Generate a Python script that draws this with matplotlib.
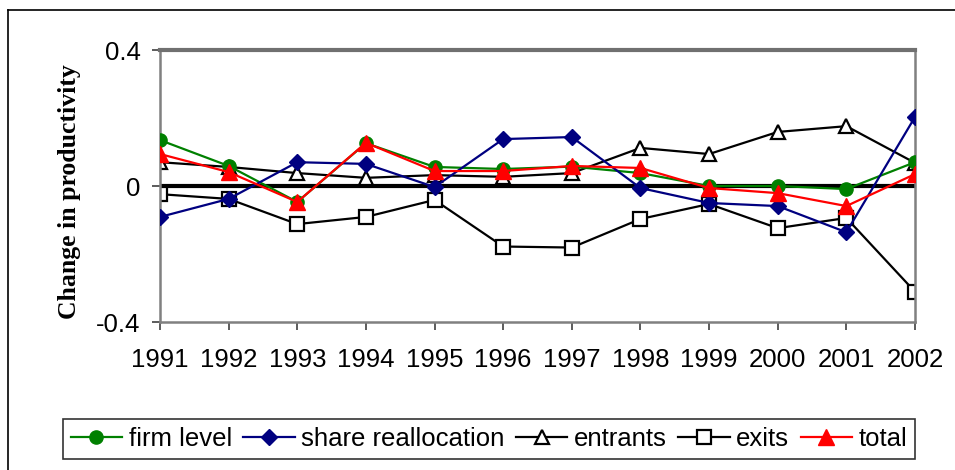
import matplotlib.pyplot as plt
from matplotlib.lines import Line2D

years = [1991, 1992, 1993, 1994, 1995, 1996, 1997, 1998, 1999, 2000, 2001, 2002]
firm_level = [0.135, 0.059, -0.047, 0.126, 0.056, 0.050, 0.057, 0.038, 0.000, 0.000, -0.009, 0.070]
share_realloc = [-0.091, -0.038, 0.070, 0.065, -0.003, 0.138, 0.144, -0.006, -0.050, -0.059, -0.136, 0.203]
entrants = [0.070, 0.056, 0.038, 0.024, 0.032, 0.027, 0.038, 0.112, 0.094, 0.159, 0.176, 0.068]
exits = [-0.024, -0.038, -0.112, -0.091, -0.041, -0.178, -0.181, -0.097, -0.053, -0.124, -0.094, -0.311]
total = [0.094, 0.041, -0.047, 0.127, 0.044, 0.044, 0.059, 0.053, -0.006, -0.021, -0.059, 0.035]

plt.rcParams['font.family'] = ['Liberation Sans', 'DejaVu Sans']

fig = plt.figure(figsize=(9.55, 4.7), dpi=100)
ax = fig.add_axes([160/955, 1 - 322/470, 755/955, 272/470])

# outer frame (cut off on right and bottom, as in the source)
fig.add_artist(Line2D([8/955, 1.0], [1 - 10/470, 1 - 10/470], color='black', lw=1.2))
fig.add_artist(Line2D([8/955, 8/955], [0, 1 - 10/470], color='black', lw=1.2))

x = list(range(len(years)))
ax.axhline(0, color='black', lw=3, zorder=1)

ax.plot(x, firm_level, color='#008000', lw=1.6, marker='o', ms=9.5, label='firm level', zorder=3)
ax.plot(x, share_realloc, color='#000080', lw=1.6, marker='D', ms=8, label='share reallocation', zorder=3)
ax.plot(x, entrants, color='black', lw=1.6, marker='^', ms=10, mfc='white', mec='black', mew=1.6,
        label='entrants', zorder=2)
ax.plot(x, exits, color='black', lw=1.6, marker='s', ms=9.5, mfc='white', mec='black', mew=1.6,
        label='exits', zorder=2)
ax.plot(x, total, color='red', lw=1.6, marker='^', ms=11, label='total', zorder=4)

ax.set_xlim(0, len(years) - 1)
ax.set_ylim(-0.4, 0.4)
ax.set_yticks([-0.4, 0, 0.4])
ax.set_yticklabels(['-0.4', '0', '0.4'])
ax.set_xticks(x)
ax.set_xticklabels([str(y) for y in years])
ax.tick_params(axis='both', labelsize=18.5, length=6, width=1.2, color='#404040', direction='out')
ax.tick_params(axis='x', pad=13)
ax.tick_params(axis='y', pad=8)

for side in ['left', 'bottom', 'right']:
    ax.spines[side].set_color('#808080')
    ax.spines[side].set_linewidth(1.8)
ax.spines['top'].set_color('#707070')
ax.spines['top'].set_linewidth(3)

ax.set_ylabel('Change in productivity', family=['Liberation Serif'], fontweight='bold',
              fontsize=18.5)
ax.yaxis.set_label_coords(-0.104, 0.48)

leg = fig.legend(loc='center', bbox_to_anchor=((58 + 920) / 2 / 955, 1 - 439/470), ncol=5,
                 fontsize=18.5, frameon=True, fancybox=False, edgecolor='black',
                 handlelength=2.0, handletextpad=0.25, columnspacing=0.45, borderpad=0.3,
                 borderaxespad=0)
leg.get_frame().set_linewidth(1.2)

fig.savefig('out.png', dpi=100)
